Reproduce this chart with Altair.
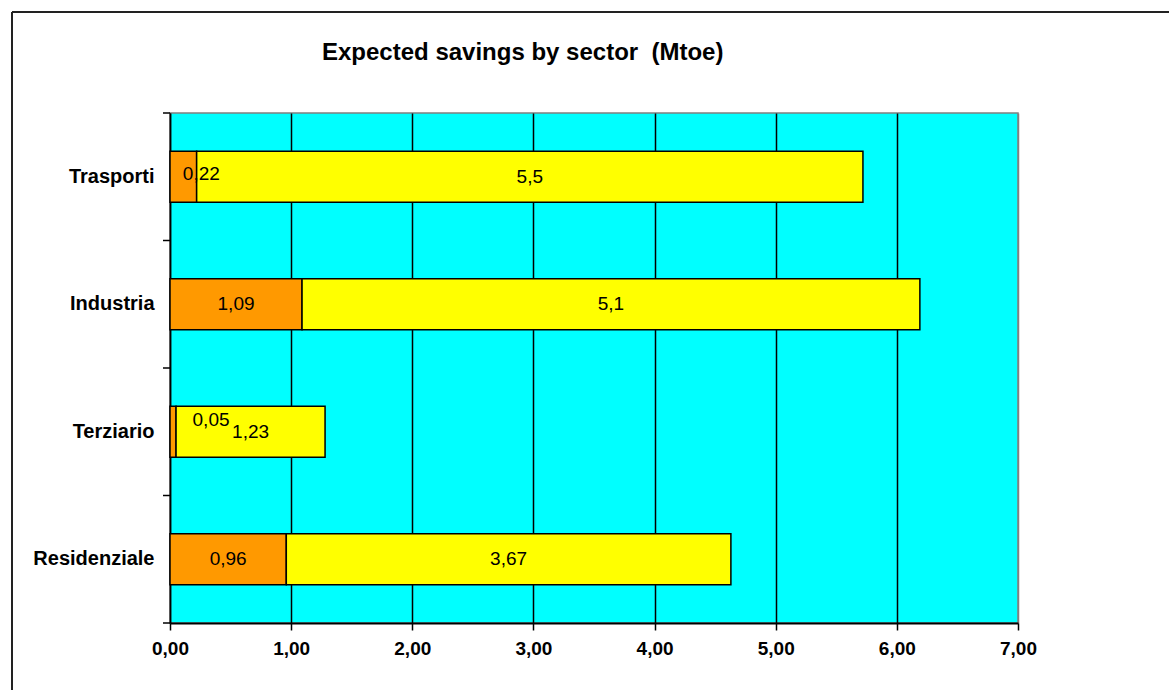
import altair as alt
import pandas as pd

sectors = ["Trasporti", "Industria", "Terziario", "Residenziale"]
orange_vals = [0.22, 1.09, 0.05, 0.96]
yellow_vals = [5.5, 5.1, 1.23, 3.67]
series_names = ["A", "B"]
series_colors = ["#FF9900", "#FFFF00"]
x_ticks = [0, 1, 2, 3, 4, 5, 6, 7]
title_text = "Expected savings by sector \u00a0(Mtoe)"

rows = []
for s, o, y in zip(sectors, orange_vals, yellow_vals):
    rows.append({"sector": s, "series": "A", "value": o, "start": 0.0, "end": o, "ord": 0})
    rows.append({"sector": s, "series": "B", "value": y, "start": o, "end": o + y, "ord": 1})
df = pd.DataFrame(rows)

FONT = "Liberation Sans"
W, H = 848, 510

ysc = alt.Scale(domain=sectors, paddingInner=0, paddingOuter=0)
xsc = alt.Scale(domain=[0, 7], nice=False, zero=True)

base = alt.Chart(df)

bars = base.mark_bar(height={"band": 0.4}, stroke="black", strokeWidth=1.5).encode(
    y=alt.Y("sector:N", sort=sectors, scale=ysc,
            axis=alt.Axis(title=None, ticks=False, domain=True, domainColor="black",
                          domainWidth=1.5, labelFont=FONT, labelFontSize=20,
                          labelFontWeight="bold", labelColor="black", labelPadding=16,
                          grid=False)),
    x=alt.X("start:Q", scale=xsc,
            axis=alt.Axis(title=None, values=x_ticks, grid=True,
                          gridColor={"condition": {"test": "datum.value >= 7", "value": "#808080"}, "value": "black"},
                          gridWidth=1.5, domainColor="black", domainWidth=2,
                          tickColor="black", tickSize=7, tickWidth=1.5,
                          labelFont=FONT, labelFontSize=19, labelFontWeight="bold",
                          labelColor="black", labelPadding=9, labelFlush=False,
                          labelOverlap=False,
                          labelExpr="replace(format(datum.value, '.2f'), '.', ',')")),
    x2="end:Q",
    color=alt.Color("series:N", scale=alt.Scale(domain=series_names, range=series_colors), legend=None),
)

lab_base = base.transform_calculate(
    mid="(datum.start + datum.end) / 2",
    lab="replace(toString(datum.value), '.', ',')",
)

labels = lab_base.transform_filter("!(datum.series == 'A' && datum.value < 0.3)").mark_text(
    font=FONT, fontSize=19, color="black", baseline="middle", align="center"
).encode(
    y=alt.Y("sector:N", sort=sectors, scale=ysc),
    x=alt.X("mid:Q", scale=xsc),
    text="lab:N",
)

lab_t = lab_base.transform_filter("datum.series == 'A' && datum.sector == 'Trasporti'").mark_text(
    font=FONT, fontSize=19, color="black", baseline="middle", align="center", dx=18, dy=-3
).encode(
    y=alt.Y("sector:N", sort=sectors, scale=ysc),
    x=alt.X("mid:Q", scale=xsc),
    text="lab:N",
)

lab_z = lab_base.transform_filter("datum.series == 'A' && datum.sector == 'Terziario'").mark_text(
    font=FONT, fontSize=19, color="black", baseline="middle", align="center", dx=38, dy=-12
).encode(
    y=alt.Y("sector:N", sort=sectors, scale=ysc),
    x=alt.X("mid:Q", scale=xsc),
    text="lab:N",
)

tick_df = pd.DataFrame({"sector": sectors})
yticks0 = alt.Chart(tick_df).mark_rule(color="black", strokeWidth=1.5).encode(
    y=alt.Y("sector:N", sort=sectors, scale=ysc, bandPosition=0),
    x=alt.value(-7), x2=alt.value(0),
)
yticks1 = alt.Chart(tick_df).transform_filter(f"datum.sector == '{sectors[-1]}'").mark_rule(
    color="black", strokeWidth=1.5).encode(
    y=alt.Y("sector:N", sort=sectors, scale=ysc, bandPosition=1),
    x=alt.value(-7), x2=alt.value(0),
)

title_df = pd.DataFrame({"t": [title_text]})
title = alt.Chart(title_df).mark_text(
    font=FONT, fontSize=24, fontWeight="bold", color="black", align="left", baseline="alphabetic"
).encode(text="t:N", x=alt.value(152), y=alt.value(-53))

border_l = alt.Chart(title_df).mark_rule(color="#222222", strokeWidth=2).encode(
    x=alt.value(-158), y=alt.value(-101), y2=alt.value(700))
border_t = alt.Chart(title_df).mark_rule(color="#222222", strokeWidth=2).encode(
    y=alt.value(-101), x=alt.value(-158), x2=alt.value(1100))

chart = alt.layer(bars, labels, lab_t, lab_z, yticks0, yticks1, title, border_l, border_t).properties(
    width=W, height=H,
    autosize=alt.AutoSizeParams(type="none"),
    padding={"left": 170, "top": 113, "right": 151, "bottom": 67},
    background="white",
).configure_view(
    fill="#00FFFF", stroke="#808080", strokeWidth=1.5,
)

chart.save("out.html", embed_options={"renderer": "svg", "actions": False})
